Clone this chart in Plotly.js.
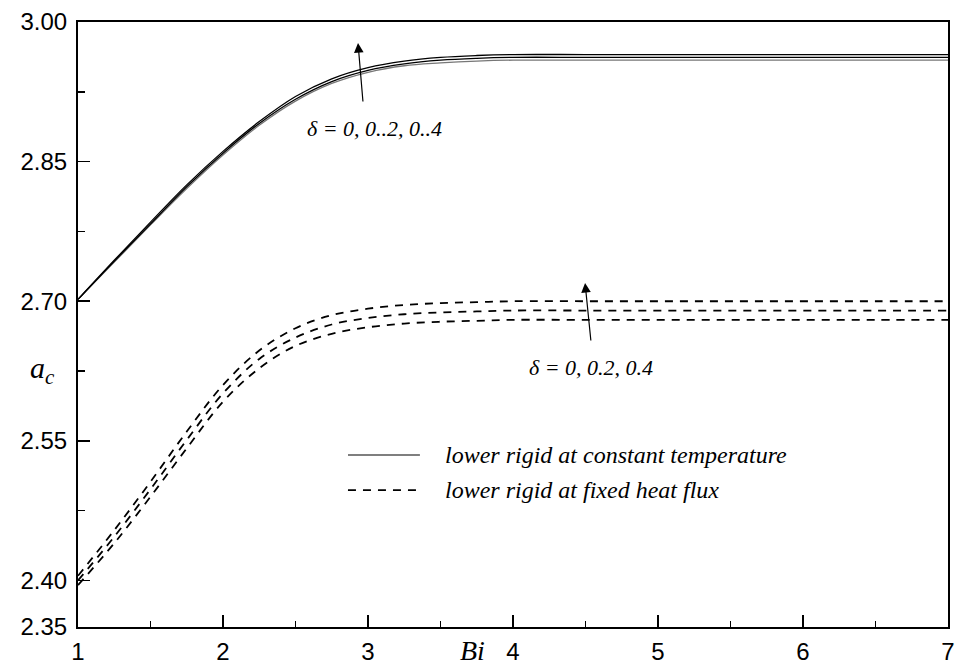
<!DOCTYPE html>
<html>
<head>
<meta charset="utf-8">
<script src="https://cdn.plot.ly/plotly-3.0.1.min.js"></script>
<style>html,body{margin:0;padding:0;background:#fff;}#chart{width:961px;height:668px;}</style>
</head>
<body>
<div id="chart"></div>
<script>
// Biot number grid
const bi = [1, 1.25, 1.5, 1.75, 2, 2.25, 2.5, 2.75, 3, 3.25, 3.5, 3.75, 4, 4.5, 5, 5.5, 6, 6.5, 7];

// lower rigid at constant temperature (solid), delta = 0, 0.2, 0.4
const solidD0  = [2.702, 2.742, 2.782, 2.821, 2.857, 2.889, 2.915, 2.934, 2.946, 2.953, 2.956, 2.958, 2.959, 2.959, 2.959, 2.959, 2.959, 2.959, 2.959];
const solidD02 = [2.702, 2.743, 2.783, 2.823, 2.859, 2.891, 2.917, 2.936, 2.948, 2.955, 2.959, 2.961, 2.962, 2.962, 2.962, 2.962, 2.962, 2.962, 2.962];
const solidD04 = [2.702, 2.744, 2.785, 2.825, 2.861, 2.893, 2.920, 2.939, 2.951, 2.958, 2.962, 2.964, 2.965, 2.965, 2.965, 2.965, 2.965, 2.965, 2.965];

// lower rigid at fixed heat flux (dashed), delta = 0, 0.2, 0.4
const dashD0  = [2.395, 2.440, 2.490, 2.542, 2.592, 2.628, 2.652, 2.665, 2.672, 2.676, 2.678, 2.679, 2.680, 2.680, 2.680, 2.680, 2.680, 2.680, 2.680];
const dashD02 = [2.400, 2.447, 2.498, 2.551, 2.601, 2.638, 2.661, 2.675, 2.682, 2.686, 2.688, 2.689, 2.690, 2.690, 2.690, 2.690, 2.690, 2.690, 2.690];
const dashD04 = [2.405, 2.454, 2.506, 2.560, 2.610, 2.647, 2.671, 2.685, 2.692, 2.696, 2.698, 2.699, 2.700, 2.700, 2.700, 2.700, 2.700, 2.700, 2.700];

// ticks
const xTickVals = [1, 2, 3, 4, 5, 6, 7];
const xTickText = ['1', '2', '3', '4', '5', '6', '7'];
const xMinorVals = [1.5, 2.5, 3.5, 4.5, 5.5, 6.5];
const yTickVals = [2.35, 2.40, 2.55, 2.70, 2.85, 3.00];
const yTickText = ['2.35', '2.40', '2.55', '2.70', '2.85', '3.00'];
const yMinorVals = [2.475, 2.625, 2.775, 2.925];

// labels
const legendLabels = ['lower rigid at constant temperature', 'lower rigid at fixed heat flux'];
const noteTop = 'δ = 0, 0..2, 0..4';
const noteBottom = 'δ = 0, 0.2, 0.4';

const serif = '"Liberation Serif", "Times New Roman", serif';
const sans = '"Liberation Sans", Arial, sans-serif';

function solid(y, color) {
  return {x: bi, y: y, mode: 'lines', line: {color: color, width: 1.3, shape: 'spline'}, showlegend: false, hoverinfo: 'skip'};
}
function dashed(y) {
  return {x: bi, y: y, mode: 'lines', line: {color: '#000', width: 1.8, dash: '8px,7px', shape: 'spline'}, showlegend: false, hoverinfo: 'skip'};
}

const data = [
  solid(solidD0, '#777'), solid(solidD02, '#000'), solid(solidD04, '#000'),
  dashed(dashD0), dashed(dashD02), dashed(dashD04)
];

const axisCommon = {
  showline: true, linecolor: '#000', linewidth: 2, mirror: true,
  ticks: 'inside', ticklen: 12, tickwidth: 1.5, tickcolor: '#000',
  showgrid: false, zeroline: false,
  tickfont: {family: sans, size: 24, color: '#000'}
};

const layout = {
  width: 961, height: 668,
  margin: {l: 78, r: 13, t: 22, b: 41},
  paper_bgcolor: '#fff', plot_bgcolor: '#fff',
  showlegend: false,
  xaxis: Object.assign({}, axisCommon, {
    range: [1, 7], tickmode: 'array', tickvals: xTickVals, ticktext: xTickText,
    ticklabelstandoff: 2,
    minor: {tickmode: 'array', tickvals: xMinorVals, ticks: 'inside', ticklen: 6, tickwidth: 1.5, tickcolor: '#000'}
  }),
  yaxis: Object.assign({}, axisCommon, {
    range: [2.35, 3.00], tickmode: 'array', tickvals: yTickVals, ticktext: yTickText,
    ticklabelstandoff: 4,
    minor: {tickmode: 'array', tickvals: yMinorVals, ticks: 'inside', ticklen: 7, tickwidth: 1.5, tickcolor: '#000'}
  }),
  shapes: [
    {type: 'line', xref: 'paper', yref: 'paper', x0: 0.3103, x1: 0.393, y0: 0.2843, y1: 0.2843, line: {color: '#555', width: 1.3}},
    {type: 'line', xref: 'paper', yref: 'paper', x0: 0.3103, x1: 0.393, y0: 0.2264, y1: 0.2264, line: {color: '#000', width: 1.8, dash: '8px,7px'}}
  ],
  annotations: [
    {xref: 'paper', yref: 'paper', x: 0.4195, y: 0.2843, xanchor: 'left', yanchor: 'middle', showarrow: false,
     text: legendLabels[0], font: {family: serif, size: 24, style: 'italic', color: '#000'}},
    {xref: 'paper', yref: 'paper', x: 0.4195, y: 0.2264, xanchor: 'left', yanchor: 'middle', showarrow: false,
     text: legendLabels[1], font: {family: serif, size: 24, style: 'italic', color: '#000'}},
    // arrows
    {xref: 'x', yref: 'y', axref: 'x', ayref: 'y', x: 2.931, y: 2.9774, ax: 2.966, ay: 2.913,
     showarrow: true, arrowhead: 2, arrowsize: 1.6, arrowwidth: 1.2, arrowcolor: '#000', text: ''},
    {xref: 'x', yref: 'y', axref: 'x', ayref: 'y', x: 4.497, y: 2.7196, ax: 4.538, ay: 2.6562,
     showarrow: true, arrowhead: 2, arrowsize: 1.6, arrowwidth: 1.2, arrowcolor: '#000', text: ''},
    {xref: 'x', yref: 'y', x: 3.048, y: 2.886, showarrow: false, text: noteTop,
     font: {family: serif, size: 22, style: 'italic', color: '#000'}},
    {xref: 'x', yref: 'y', x: 4.538, y: 2.629, showarrow: false, text: noteBottom,
     font: {family: serif, size: 22, style: 'italic', color: '#000'}},
    // axis titles
    {xref: 'paper', yref: 'paper', x: -0.041, y: 0.425, xanchor: 'center', yanchor: 'middle', showarrow: false,
     text: '<i>a</i><sub><i>c</i></sub>', font: {family: serif, size: 30, color: '#000'}},
    {xref: 'paper', yref: 'paper', x: 0.4540, y: -0.0678, xanchor: 'center', yanchor: 'bottom', showarrow: false,
     text: '<i>Bi</i>', font: {family: serif, size: 28, color: '#000'}}
  ]
};

Plotly.newPlot('chart', data, layout, {staticPlot: true, displayModeBar: false});
</script>
</body>
</html>
